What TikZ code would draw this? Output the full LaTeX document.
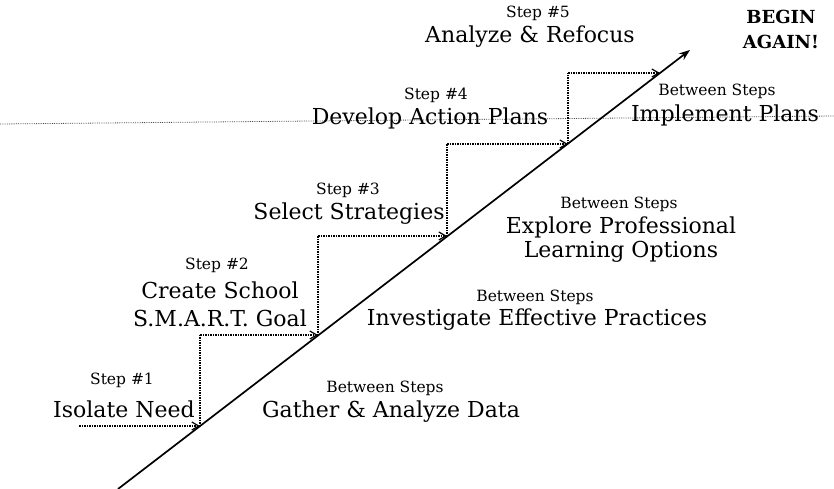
\documentclass[tikz,border=0pt]{standalone}
\usepackage{fontspec}
\setmainfont{DejaVu Serif}
\usetikzlibrary{arrows.meta}

\begin{document}
\begin{tikzpicture}[x=1pt,y=-1pt,every node/.style={inner sep=0pt,align=center},
  stepno/.style={font=\fontsize{15.5}{17}\selectfont},
  big/.style={font=\fontsize{22}{28}\selectfont},
  riser/.style={densely dotted,line width=1.5pt},
  tread/.style={densely dotted,line width=1.5pt,-{Straight Barb[length=7pt,width=8pt,line width=1.2pt]}},
  fold/.style={black!70,densely dotted,line width=0.8pt}]
\useasboundingbox (0,0) rectangle (834,489);
\draw[fold] (0,124) -- (834,116);
\coordinate(lo) at (118,489);
\coordinate(hi) at (690,50);
\coordinate(t1) at (79,426);
\coordinate(c1) at (200,426);
\coordinate(c2) at (318,335);
\coordinate(c3) at (447,236);
\coordinate(c4) at (568,144);
\coordinate(c5) at (660,73);
\draw[line width=1.7pt,-{Stealth[length=11pt,width=8pt]}] (lo) -- (hi);
\draw[tread] (t1) -- (c1);
\draw[riser] (c1) -- (c1|-c2);
\draw[tread] (c1|-c2) -- (c2);
\draw[riser] (c2) -- (c2|-c3);
\draw[tread] (c2|-c3) -- (c3);
\draw[riser] (c3) -- (c3|-c4);
\draw[tread] (c3|-c4) -- (c4);
\draw[riser] (c4) -- (c4|-c5);
\draw[tread] (c4|-c5) -- (c5);
\node[stepno](s1) at (122,380){Step \#1};
\node[big](n1) at (124,409){Isolate Need};
\node[stepno](s2) at (217,265){Step \#2};
\node[big](n2) at (220,304){Create School\\S.M.A.R.T. Goal};
\node[stepno](s3) at (348,190){Step \#3};
\node[big](n3) at (349,214){Select Strategies};
\node[stepno](s4) at (436,95){Step \#4};
\node[big](n4) at (430,118){Develop Action Plans};
\node[stepno](s5) at (538,13){Step \#5};
\node[big](n5) at (530,37){Analyze \& Refocus};
\node[stepno](b1) at (385,388){Between Steps};
\node[big](g1) at (391,412){Gather \& Analyze Data};
\node[stepno](b2) at (535,297){Between Steps};
\node[big](g2) at (537,320){Investigate Effective Practices};
\node[stepno](b3) at (619,204){Between Steps};
\node[big,font=\fontsize{22}{24}\selectfont](g3) at (621,240){Explore Professional\\Learning Options};
\node[stepno](b4) at (717,91){Between Steps};
\node[big](g4) at (725,115){Implement Plans};
\node[font=\bfseries\fontsize{18}{25}\selectfont](again) at (781,29){BEGIN\\AGAIN!};
\end{tikzpicture}
\end{document}
